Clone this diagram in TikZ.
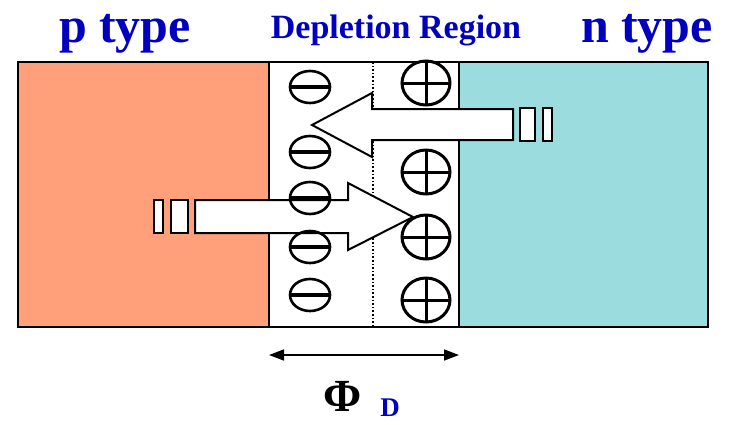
\documentclass[tikz,border=0pt]{standalone}
\usepackage{fontspec}
\setmainfont{Liberation Serif}
\usetikzlibrary{arrows.meta}
\definecolor{ptype}{RGB}{255,160,122}
\definecolor{ntype}{RGB}{155,221,222}
\definecolor{labelblue}{RGB}{0,0,190}
\tikzset{
  region/.style={line width=2pt},
  bigarrow/.style={draw=black,fill=white,line width=2pt,line join=miter},
  stripe/.style={draw=black,fill=white,line width=2pt},
  minusion/.style={line width=2.6pt},
  plusion/.style={line width=3pt},
  title/.style={text=labelblue,font=\bfseries\fontsize{50}{50}\selectfont,anchor=base,inner sep=0pt},
  subtitle/.style={text=labelblue,font=\bfseries\fontsize{34}{34}\selectfont,anchor=base,inner sep=0pt},
}
\newcommand{\minusat}[2]{%
  \draw[minusion] (#1,#2) ellipse [x radius=20pt,y radius=16pt];
  \draw[line width=3.5pt] (#1-20,#2) -- (#1+20,#2);}
\newcommand{\plusat}[2]{%
  \draw[plusion] (#1,#2) ellipse [x radius=24pt,y radius=22pt];
  \draw[plusion] (#1-24,#2) -- (#1+24,#2) (#1,#2-22) -- (#1,#2+22);}
\begin{document}
\begin{tikzpicture}[x=1pt,y=-1pt]
\useasboundingbox (0,0) rectangle (730,424);

% the three regions of the junction
\coordinate (pl) at (18,62);
\coordinate (dl) at (269,327);
\coordinate (dr) at (459,62);
\coordinate (nr) at (708,327);
\fill[ptype] (pl) rectangle (dl);
\fill[white] (269,62) rectangle (459,327);
\fill[ntype] (dr) rectangle (nr);
\draw[region] (269,62) -- (269,327) (459,62) -- (459,327);
\draw[region] (pl) rectangle (nr);

% junction centre line
\draw[dotted,line width=1.6pt] (373,62) -- (373,327);

% drift arrow, n side towards p side
\draw[bigarrow] (513,109) -- (372,109) -- (372,93) -- (312,125) -- (372,157) -- (372,140) -- (513,140) -- cycle;
\draw[stripe] (520,108) rectangle (535,141);
\draw[stripe] (543,108) rectangle (552,141);

% diffusion arrow, p side towards n side
\draw[bigarrow] (195,200) -- (348,200) -- (348,183) -- (413,217) -- (348,250) -- (348,233) -- (195,233) -- cycle;
\draw[stripe] (154,200) rectangle (163,233);
\draw[stripe] (171,200) rectangle (188,233);

% fixed ions in the depletion region
\minusat{310}{87}
\minusat{310}{152}
\minusat{310}{198}
\minusat{310}{247}
\minusat{310}{295}
\plusat{426}{83}
\plusat{426}{172}
\plusat{426}{237}
\plusat{426}{300}

% width of the depletion region
\coordinate (wl) at (269,355);
\coordinate (wr) at (459,355);
\draw[line width=1.6pt,{Triangle[length=15pt,width=11pt]}-{Triangle[length=15pt,width=11pt]}] (wl) -- (wr);

% labels
\node[title] (ptxt) at (125,42) {p type};
\node[title] (ntxt) at (647,42) {n type};
\node[subtitle] (dtxt) at (396,38) {Depletion Region};
\node[anchor=base,inner sep=0pt,font=\bfseries\fontsize{46}{46}\selectfont] (phi) at (343,411) {Φ};
\node[anchor=base,inner sep=0pt,text=labelblue,font=\bfseries\fontsize{27}{27}\selectfont] (sub) at (390,416) {D};
\end{tikzpicture}
\end{document}
